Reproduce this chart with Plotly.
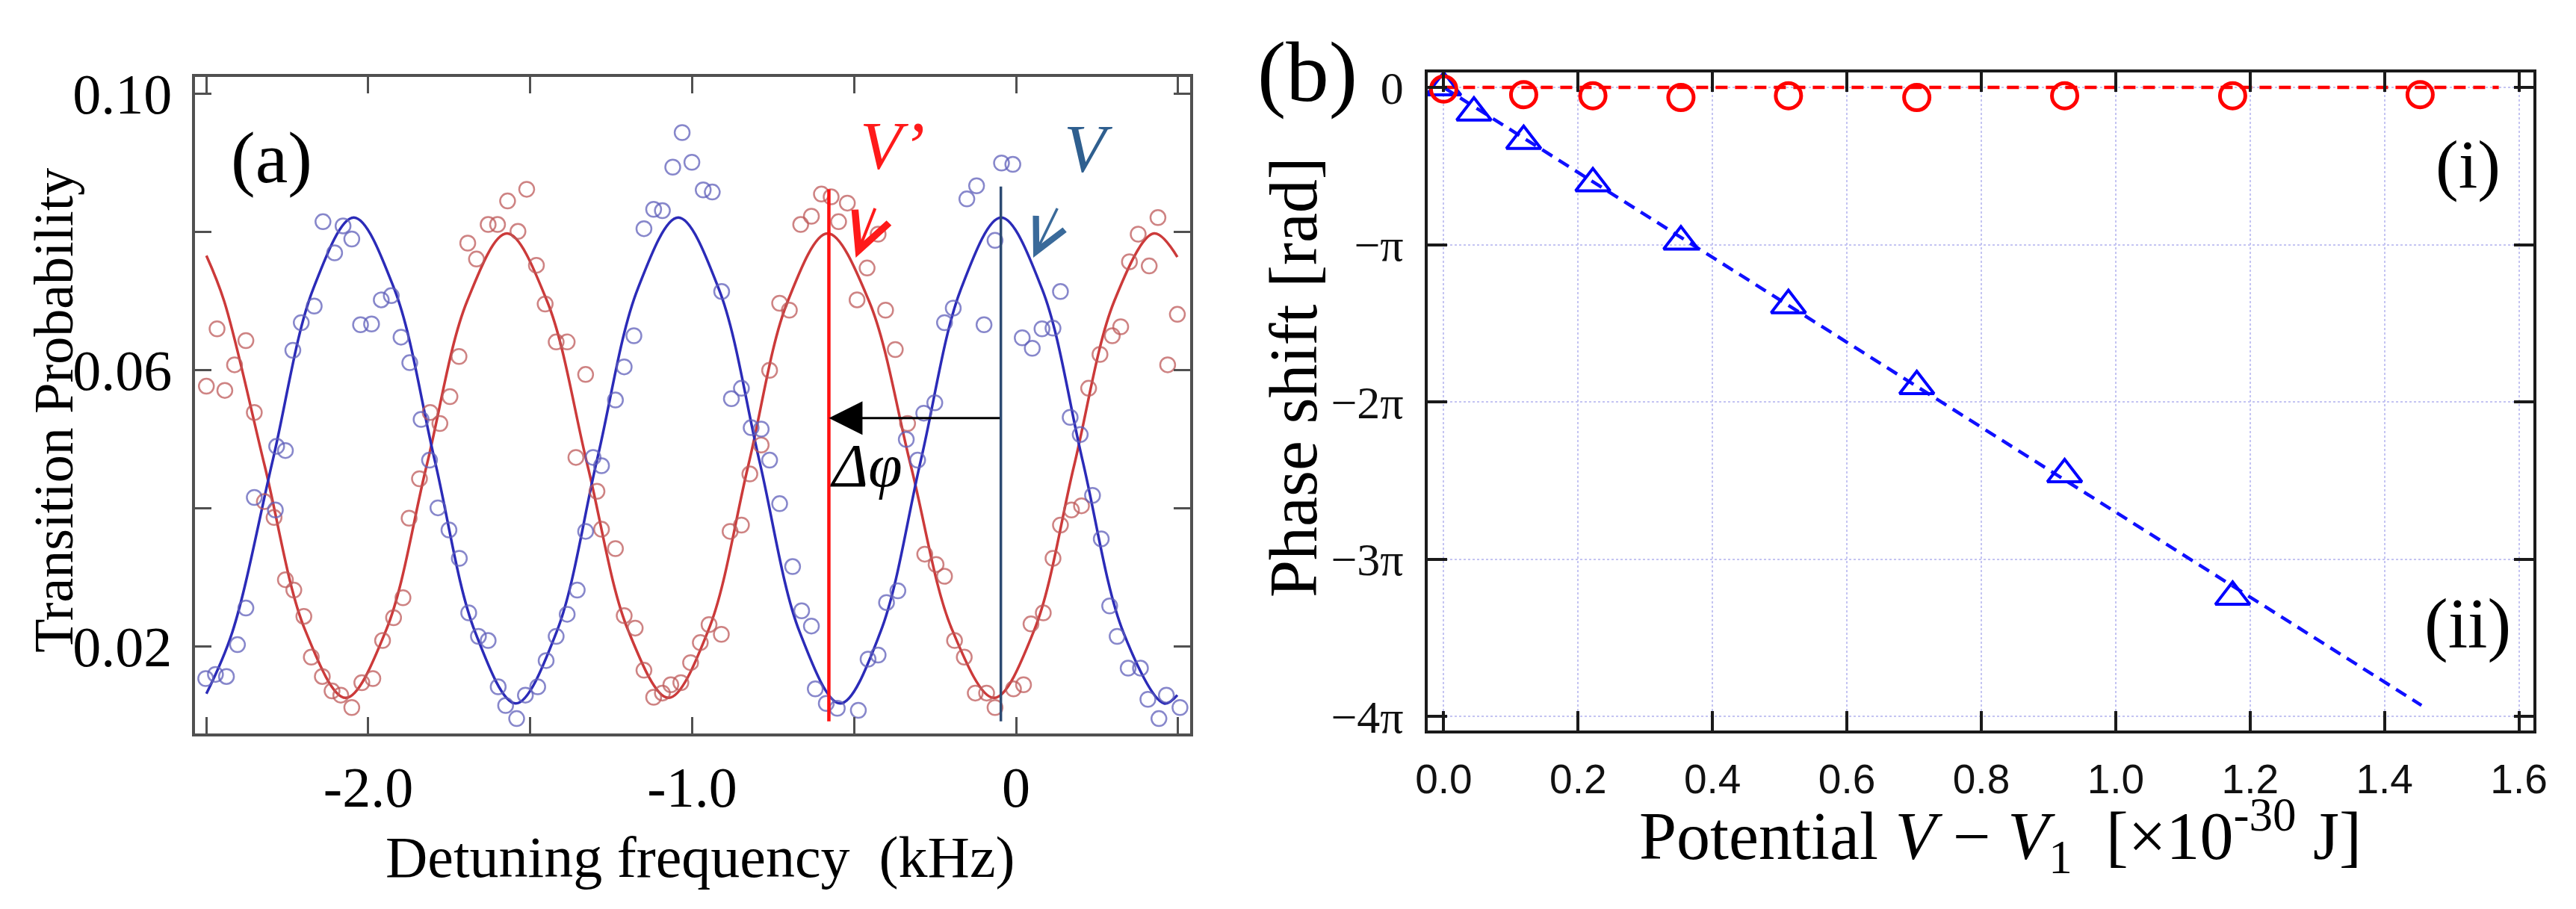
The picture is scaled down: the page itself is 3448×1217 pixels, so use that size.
import plotly.graph_objects as go

# ---------------- panel (a): transition probability vs detuning ----------------
blue_pts_x = [-2.502, -2.472, -2.438, -2.404, -2.378, -2.352, -2.287, -2.283, -2.256, -2.233,
              -2.207, -2.167, -2.140, -2.104, -2.078, -2.051, -2.024, -1.990, -1.960, -1.929,
              -1.899, -1.872, -1.837, -1.811, -1.785, -1.751, -1.719, -1.690, -1.660, -1.630,
              -1.599, -1.576, -1.542, -1.515, -1.477, -1.451, -1.420, -1.386, -1.355, -1.329,
              -1.306, -1.280, -1.237, -1.210, -1.180, -1.149, -1.119, -1.092, -1.060, -1.031,
              -1.001, -0.966, -0.938, -0.909, -0.879, -0.848, -0.818, -0.787, -0.761, -0.730,
              -0.690, -0.662, -0.632, -0.620, -0.586, -0.552, -0.487, -0.457, -0.426, -0.400,
              -0.365, -0.339, -0.304, -0.285, -0.251, -0.221, -0.194, -0.152, -0.122, -0.099,
              -0.065, -0.045, -0.010, 0.019, 0.050, 0.080, 0.114, 0.137, 0.167, 0.198,
              0.236, 0.263, 0.289, 0.312, 0.346, 0.384, 0.407, 0.441, 0.464, 0.506]
blue_pts_y = [0.0154, 0.0160, 0.0157, 0.0203, 0.0256, 0.0416, 0.0398, 0.0490, 0.0484, 0.0629,
              0.0669, 0.0693, 0.0815, 0.0770, 0.0809, 0.0790, 0.0666, 0.0667, 0.0702, 0.0708,
              0.0648, 0.0611, 0.0529, 0.0470, 0.0401, 0.0369, 0.0328, 0.0249, 0.0215, 0.0209,
              0.0142, 0.0115, 0.0096, 0.0130, 0.0142, 0.0180, 0.0215, 0.0247, 0.0282, 0.0367,
              0.0474, 0.0462, 0.0557, 0.0605, 0.0650, 0.0805, 0.0833, 0.0831, 0.0894, 0.0944,
              0.0901, 0.0861, 0.0858, 0.0714, 0.0559, 0.0574, 0.0517, 0.0515, 0.0470, 0.0407,
              0.0316, 0.0252, 0.0230, 0.0139, 0.0118, 0.0111, 0.0108, 0.0182, 0.0188, 0.0264,
              0.0281, 0.0500, 0.0470, 0.0538, 0.0553, 0.0669, 0.0690, 0.0848, 0.0867, 0.0666,
              0.0788, 0.0900, 0.0898, 0.0647, 0.0632, 0.0660, 0.0661, 0.0714, 0.0532, 0.0507,
              0.0419, 0.0356, 0.0259, 0.0215, 0.0169, 0.0169, 0.0124, 0.0096, 0.0130, 0.0112]

red_pts_x = [-2.500, -2.467, -2.443, -2.413, -2.378, -2.352, -2.321, -2.291, -2.256, -2.230,
             -2.199, -2.176, -2.142, -2.112, -2.085, -2.051, -2.020, -1.986, -1.956, -1.922,
             -1.893, -1.874, -1.842, -1.809, -1.779, -1.748, -1.720, -1.693, -1.666, -1.630,
             -1.601, -1.570, -1.538, -1.511, -1.481, -1.454, -1.420, -1.386, -1.359, -1.329,
             -1.294, -1.280, -1.237, -1.210, -1.176, -1.149, -1.119, -1.092, -1.066, -1.035,
             -1.005, -0.975, -0.948, -0.910, -0.883, -0.848, -0.822, -0.787, -0.761, -0.730,
             -0.700, -0.665, -0.632, -0.601, -0.571, -0.548, -0.521, -0.491, -0.460, -0.426,
             -0.403, -0.373, -0.335, -0.282, -0.247, -0.221, -0.190, -0.160, -0.126, -0.091,
             -0.065, -0.008, 0.023, 0.046, 0.084, 0.114, 0.137, 0.171, 0.202, 0.224,
             0.259, 0.297, 0.323, 0.350, 0.377, 0.411, 0.438, 0.468, 0.498]
red_pts_y = [0.0577, 0.0660, 0.0571, 0.0608, 0.0643, 0.0539, 0.0410, 0.0387, 0.0297, 0.0282,
             0.0244, 0.0185, 0.0157, 0.0136, 0.0130, 0.0112, 0.0148, 0.0154, 0.0209, 0.0242,
             0.0271, 0.0386, 0.0443, 0.0539, 0.0523, 0.0562, 0.0620, 0.0784, 0.0761, 0.0811,
             0.0811, 0.0845, 0.0801, 0.0862, 0.0752, 0.0696, 0.0641, 0.0641, 0.0474, 0.0594,
             0.0425, 0.0370, 0.0342, 0.0245, 0.0227, 0.0166, 0.0127, 0.0133, 0.0145, 0.0148,
             0.0177, 0.0206, 0.0232, 0.0218, 0.0367, 0.0376, 0.0450, 0.0492, 0.0600, 0.0697,
             0.0687, 0.0811, 0.0823, 0.0855, 0.0851, 0.0815, 0.0842, 0.0702, 0.0748, 0.0797,
             0.0687, 0.0630, 0.0523, 0.0334, 0.0319, 0.0302, 0.0209, 0.0185, 0.0133, 0.0133,
             0.0112, 0.0139, 0.0145, 0.0233, 0.0249, 0.0328, 0.0376, 0.0398, 0.0404, 0.0574,
             0.0623, 0.0650, 0.0663, 0.0757, 0.0797, 0.0751, 0.0821, 0.0608, 0.0681]

# fitted curves at roughly 1/8 period steps
blue_fit_x = [-2.500, -2.420, -2.295, -2.170, -2.045, -1.920, -1.795, -1.670, -1.545, -1.419,
              -1.294, -1.168, -1.043, -0.918, -0.793, -0.668, -0.543, -0.419, -0.294, -0.170,
              -0.046, 0.080, 0.205, 0.331, 0.457, 0.498]
blue_fit_y = [0.0132, 0.0221, 0.0470, 0.0718, 0.0821, 0.0718, 0.0470, 0.0221, 0.0118, 0.0221,
              0.0470, 0.0718, 0.0821, 0.0718, 0.0470, 0.0221, 0.0118, 0.0221, 0.0470, 0.0718,
              0.0821, 0.0718, 0.0470, 0.0221, 0.0118, 0.0130]
red_fit_x = [-2.500, -2.445, -2.320, -2.195, -2.070, -1.945, -1.820, -1.695, -1.572, -1.448,
             -1.323, -1.198, -1.073, -0.950, -0.827, -0.705, -0.582, -0.454, -0.325, -0.197,
             -0.068, 0.056, 0.179, 0.303, 0.426, 0.498]
red_fit_y = [0.0766, 0.0700, 0.0462, 0.0224, 0.0126, 0.0224, 0.0462, 0.0700, 0.0798, 0.0700,
             0.0462, 0.0224, 0.0126, 0.0224, 0.0462, 0.0700, 0.0798, 0.0700, 0.0462, 0.0224,
             0.0126, 0.0224, 0.0462, 0.0700, 0.0798, 0.0764]

# marker lines V' (red) and V (dark blue)
vline_x = [-0.578, -0.047]
vline_top = [0.0862, 0.0866]
vline_bottom = 0.0092
shift_arrow_y = 0.0531

xa_ticks = [-2.5, -2.0, -1.5, -1.0, -0.5, 0.0, 0.5]
xa_labels = ["", "-2.0", "", "-1.0", "", "0", ""]
ya_ticks = [0.02, 0.04, 0.06, 0.08, 0.10]
ya_labels = ["0.02", "", "0.06", "", "0.10"]

# ---------------- panel (b): phase shift vs potential ----------------
pot_circ = [0.000, 0.119, 0.222, 0.353, 0.513, 0.704, 0.924, 1.174, 1.453]
phase_circ = [-0.01, -0.046, -0.053, -0.064, -0.053, -0.064, -0.053, -0.053, -0.046]  # units of pi
pot_tri = [0.000, 0.045, 0.119, 0.222, 0.353, 0.513, 0.704, 0.924, 1.174]
phase_tri = [0.0, -0.16, -0.34, -0.61, -0.98, -1.385, -1.90, -2.46, -3.24]  # units of pi
line_i_x = [0.0, 1.57]
line_i_y = [0.0, 0.0]
line_ii_x = [0.0, 1.455]
line_ii_y = [0.0, -3.93]

xb_ticks = [0.0, 0.2, 0.4, 0.6, 0.8, 1.0, 1.2, 1.4, 1.6]
xb_labels = ["0.0", "0.2", "0.4", "0.6", "0.8", "1.0", "1.2", "1.4", "1.6"]
yb_ticks = [0, -1, -2, -3, -4]
yb_labels = ["0", "\u2212\u03c0", "\u22122\u03c0", "\u22123\u03c0", "\u22124\u03c0"]

SERIF = "Liberation Serif"
W, H = 3448, 1217

fig = go.Figure()

# panel a data
fig.add_trace(go.Scatter(x=red_fit_x, y=red_fit_y, mode="lines",
                         line=dict(color="#cc3a3a", width=3.5, shape="spline", smoothing=1.0),
                         xaxis="x", yaxis="y"))
fig.add_trace(go.Scatter(x=blue_fit_x, y=blue_fit_y, mode="lines",
                         line=dict(color="#2b2bb8", width=3.5, shape="spline", smoothing=1.0),
                         xaxis="x", yaxis="y"))
fig.add_trace(go.Scatter(x=red_pts_x, y=red_pts_y, mode="markers",
                         marker=dict(symbol="circle-open", size=20, color="rgba(190,90,90,0.75)",
                                     line=dict(width=2.5)),
                         xaxis="x", yaxis="y"))
fig.add_trace(go.Scatter(x=blue_pts_x, y=blue_pts_y, mode="markers",
                         marker=dict(symbol="circle-open", size=20, color="rgba(95,95,185,0.75)",
                                     line=dict(width=2.5)),
                         xaxis="x", yaxis="y"))

# V' and V lines
for xv, yt, col, lw in zip(vline_x, vline_top, ["#ff1010", "#2c4a72"], [4.5, 3.5]):
    fig.add_trace(go.Scatter(x=[xv, xv], y=[vline_bottom, yt], mode="lines",
                             line=dict(color=col, width=lw),
                             xaxis="x", yaxis="y"))

# panel b data
fig.add_trace(go.Scatter(x=line_i_x, y=line_i_y, mode="lines",
                         line=dict(color="#ff0000", width=4.5, dash="16px,10px"),
                         xaxis="x2", yaxis="y2"))
fig.add_trace(go.Scatter(x=line_ii_x, y=line_ii_y, mode="lines",
                         line=dict(color="#1010ff", width=4.5, dash="16px,10px"),
                         xaxis="x2", yaxis="y2"))
fig.add_trace(go.Scatter(x=pot_tri, y=phase_tri, mode="markers",
                         marker=dict(symbol="triangle-up-open", size=40, color="#0000ff",
                                     line=dict(width=4)),
                         xaxis="x2", yaxis="y2"))
fig.add_trace(go.Scatter(x=pot_circ, y=phase_circ, mode="markers",
                         marker=dict(symbol="circle-open", size=34, color="#ff0000",
                                     line=dict(width=5)),
                         xaxis="x2", yaxis="y2"))

common_a = dict(showline=True, linecolor="#505050", linewidth=4, mirror="ticks",
                ticks="inside", ticklen=22, tickwidth=3, tickcolor="#505050",
                showgrid=False, zeroline=False,
                tickfont=dict(family=SERIF, size=76, color="black"))
common_b = dict(showline=True, linecolor="#1a1a1a", linewidth=4, mirror="ticks",
                ticks="inside", ticklen=26, tickwidth=4, tickcolor="#1a1a1a",
                showgrid=True, gridcolor="#c4c4f2", gridwidth=2, griddash="dot",
                zeroline=False)

fig.update_layout(
    width=W, height=H,
    margin=dict(l=0, r=0, t=0, b=0),
    paper_bgcolor="white", plot_bgcolor="white",
    showlegend=False,
    xaxis=dict(domain=[247 / W, 1592 / W], range=[-2.534, 0.537], anchor="y",
               tickvals=xa_ticks, ticktext=xa_labels, ticklabelstandoff=2, **common_a),
    yaxis=dict(domain=[1 - 992 / H, 1 - 87 / H], range=[0.0074, 0.1024], anchor="x",
               tickvals=ya_ticks, ticktext=ya_labels, ticklabelstandoff=12, **common_a),
    xaxis2=dict(domain=[1913.5 / W, 3409 / W], range=[-0.0237, 1.622], anchor="y2",
                tickvals=xb_ticks, ticktext=xb_labels, ticklabelstandoff=14,
                tickfont=dict(family="Liberation Sans", size=55, color="#111111"), **common_b),
    yaxis2=dict(domain=[1 - 987 / H, 1 - 80 / H], range=[-4.088, 0.097], anchor="x2",
                tickvals=yb_ticks, ticktext=yb_labels, ticklabelstandoff=16,
                tickfont=dict(family=SERIF, size=62, color="#111111"), **common_b),
)


def ptxt(text, X, Y, size, angle=0, color="black"):
    fig.add_annotation(text=text, x=X / W, y=1 - Y / H, xref="paper", yref="paper",
                       showarrow=False, textangle=angle, xanchor="center", yanchor="middle",
                       font=dict(family=SERIF, size=size, color=color))


ptxt("(a)", 350, 198, 98)
ptxt("Transition Probability", 56, 546, 74, angle=-90)
ptxt("Detuning frequency\u00a0\u00a0(kHz)", 930, 1162, 78)
ptxt("(b)", 1751, 80, 115)
ptxt("Phase shift [rad]", 1732, 500, 90, angle=-90)
ptxt("Potential <i>V</i> \u2212 <i>V</i><sub>1</sub>\u00a0\u00a0[\u00d710<sup>-30</sup> J]", 2688, 1133, 90)
ptxt("(i)", 3320, 207, 92)
ptxt("(ii)", 3320, 840, 95)

# labels and arrows inside panel a
fig.add_annotation(text="<i>V\u2019</i>", x=-0.381, y=0.0925, xref="x", yref="y", showarrow=False,
                   font=dict(family=SERIF, size=92, color="#ff1a1a"))
fig.add_annotation(text="<i>V</i>", x=0.223, y=0.0921, xref="x", yref="y", showarrow=False,
                   font=dict(family=SERIF, size=92, color="#2f5f8f"))
fig.add_annotation(text="<i>\u0394\u03c6</i>", x=-0.578, y=0.0462, xref="x", yref="y",
                   xanchor="left", showarrow=False,
                   font=dict(family=SERIF, size=82, color="black"))
# shift arrow from V to V'
fig.add_annotation(x=vline_x[0], y=shift_arrow_y, ax=vline_x[1], ay=shift_arrow_y,
                   xref="x", yref="y", axref="x", ayref="y", text="", showarrow=True,
                   arrowhead=2, arrowsize=3, arrowwidth=3, arrowcolor="black")
fig.add_annotation(x=-0.495, y=0.0763, ax=-0.434, ay=0.0836,
                   xref="x", yref="y", axref="x", ayref="y", text="", showarrow=True,
                   arrowhead=5, arrowsize=2.4, arrowwidth=4, arrowcolor="#ff1a1a")
fig.add_annotation(x=0.053, y=0.0763, ax=0.129, ay=0.0836,
                   xref="x", yref="y", axref="x", ayref="y", text="", showarrow=True,
                   arrowhead=5, arrowsize=2.4, arrowwidth=3.5, arrowcolor="#3a6a9a")

fig.write_html("out.html", config={"displayModeBar": False},
               post_script="document.body.style.margin='0';document.body.style.overflow='hidden';")
